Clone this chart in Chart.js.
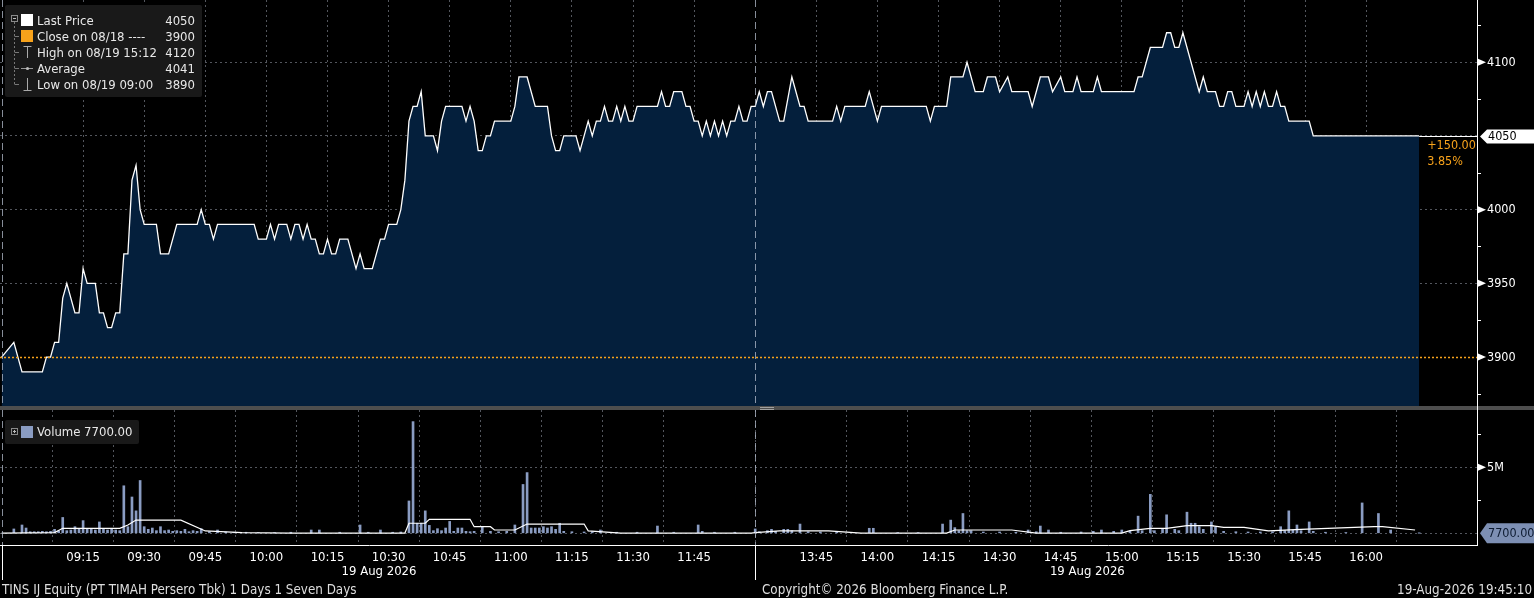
<!DOCTYPE html>
<html>
<head>
<meta charset="utf-8">
<title>TINS IJ Equity</title>
<script src="https://cdn.jsdelivr.net/npm/chart.js@4.4.1/dist/chart.umd.min.js"></script>
<style>
  html, body { margin: 0; padding: 0; background: #000; }
  body { width: 1534px; height: 598px; position: relative; overflow: hidden;
         font-family: 'DejaVu Sans Condensed', 'DejaVu Sans', sans-serif; color: #e8e8e8; }
  .pane { position: absolute; left: 0; width: 1534px; }
  #pricePane { top: 0; height: 406px; }
  #volPane { top: 410px; height: 188px; }
  #divider { position: absolute; left: 0; top: 406px; width: 1534px; height: 4px; background: #4e4e4e; }
  #grip { position: absolute; left: 760px; top: 407px; width: 14px; height: 1px;
          border-top: 1px solid #a0a0a0; border-bottom: 1px solid #a0a0a0; }
  #axisJoin { position: absolute; left: 1477px; top: 406px; width: 1px; height: 4px; background: #fff; }
  .box { position: absolute; background: #191919; border-radius: 2px; }
  .txt { position: absolute; height: 16px; line-height: 16px; white-space: nowrap; font-size: 13px; }
  .foot { position: absolute; top: 582px; height: 16px; line-height: 16px; font-size: 13.3px; color: #dedede; white-space: nowrap; }
  svg { position: absolute; left: 0; top: 0; overflow: visible; }
</style>
</head>
<body>
<div id="pricePane" class="pane"><canvas id="priceChart"></canvas></div>
<div id="divider"></div><div id="grip"></div><div id="axisJoin"></div>
<div id="volPane" class="pane"><canvas id="volChart"></canvas></div>

<div class="box" style="left:5px;top:5px;width:197px;height:92px;"></div>
<div class="box" style="left:5px;top:420px;width:134px;height:24px;"></div>
<svg width="40" height="450">
  <rect x="11.5" y="15.5" width="6" height="6" fill="none" stroke="#8a8a8a"/>
  <line x1="13" y1="18.5" x2="16" y2="18.5" stroke="#bbb"/>
  <line x1="14.5" y1="22" x2="14.5" y2="84.5" stroke="#777" stroke-dasharray="2,2"/>
  <line x1="14.5" y1="36.5" x2="19" y2="36.5" stroke="#777"/>
  <line x1="14.5" y1="52.5" x2="19" y2="52.5" stroke="#777"/>
  <line x1="14.5" y1="68.5" x2="19" y2="68.5" stroke="#777"/>
  <line x1="14.5" y1="84.5" x2="19" y2="84.5" stroke="#777"/>
  <rect x="21" y="14" width="12" height="12" fill="#fff"/>
  <rect x="21" y="30" width="12" height="12" fill="#f7a21b"/>
  <line x1="23.5" y1="46.5" x2="31.5" y2="46.5" stroke="#aaa"/>
  <line x1="27.5" y1="46.5" x2="27.5" y2="58" stroke="#aaa"/>
  <line x1="21" y1="68.5" x2="33" y2="68.5" stroke="#999"/>
  <circle cx="27.5" cy="68.5" r="1.6" fill="#bbb"/>
  <line x1="27.5" y1="78" x2="27.5" y2="90" stroke="#aaa"/>
  <line x1="23.5" y1="90.5" x2="31.5" y2="90.5" stroke="#aaa"/>
  <rect x="11.5" y="428.5" width="6" height="6" fill="none" stroke="#8a8a8a"/>
  <line x1="13" y1="431.5" x2="16" y2="431.5" stroke="#bbb"/>
  <line x1="14.5" y1="430" x2="14.5" y2="433" stroke="#bbb"/>
  <rect x="21" y="426" width="12" height="12" fill="#8a9cc2"/>
</svg>
<div id="legend"></div>

<div class="foot" style="left:2px;">TINS IJ Equity (PT TIMAH Persero Tbk) 1 Days 1 Seven Days</div>
<div class="foot" style="left:762px;">Copyright© 2026 Bloomberg Finance L.P.</div>
<div class="foot" style="right:2px;">19-Aug-2026 19:45:10</div>

<script>
// price line, one point per traded minute where the line turns
const priceTimes = [
  '08:55','08:58','09:00','09:05','09:06','09:07','09:08','09:09','09:10','09:11','09:13','09:14',
  '09:15','09:16','09:18','09:19','09:20','09:21','09:22','09:23','09:24','09:25','09:26','09:27',
  '09:28','09:29','09:30','09:33','09:34','09:36','09:38','09:43','09:44','09:45','09:46','09:47',
  '09:48','09:57','09:58','10:00','10:01','10:02','10:03','10:05','10:06','10:07','10:08','10:09',
  '10:10','10:11','10:12','10:13','10:14','10:15','10:16','10:17','10:18','10:20','10:22','10:23',
  '10:24','10:26','10:28','10:29','10:30','10:32','10:33','10:34','10:35','10:36','10:37','10:38',
  '10:39','10:41','10:42','10:43','10:44','10:48','10:49','10:50','10:51','10:52','10:53','10:54',
  '10:55','10:56','11:00','11:01','11:02','11:04','11:06','11:09','11:10','11:11','11:12','11:13',
  '11:16','11:17','11:19','11:20','11:21','11:22','11:23','11:24','11:25','11:26','11:27','11:28',
  '11:29','11:30','11:31','11:36','11:37','11:38','11:39','11:40','11:42','11:43','11:44','11:45',
  '11:46','11:47','11:48','11:49','11:50','11:51','11:52','11:53','11:54','11:55','11:56','11:57',
  '11:58','11:59',
  '13:30','13:31','13:32','13:33','13:34','13:36','13:37','13:39','13:41','13:42','13:43','13:49',
  '13:50','13:51','13:52','13:57','13:58','14:00','14:01','14:12','14:13','14:14','14:17','14:18',
  '14:21','14:22','14:24','14:26','14:27','14:29','14:30','14:32','14:33','14:37','14:38','14:40',
  '14:42','14:43','14:45','14:46','14:48','14:49','14:50','14:53','14:54','14:55','15:03','15:04',
  '15:05','15:07','15:10','15:11','15:12','15:13','15:14','15:15','15:19','15:20','15:21','15:23',
  '15:24','15:25','15:26','15:27','15:28','15:30','15:31','15:32','15:33','15:34','15:35','15:36',
  '15:37','15:38','15:39','15:40','15:41','15:46','15:47','16:13'
];
const priceValues = [
  3900,3910,3890,3890,3900,3900,3910,3910,3940,3950,3930,3930,
  3960,3950,3950,3930,3930,3920,3920,3930,3930,3970,3970,4020,
  4030,4000,3990,3990,3970,3970,3990,3990,4000,3990,3990,3980,
  3990,3990,3980,3980,3990,3980,3990,3990,3980,3990,3990,3980,
  3990,3980,3980,3970,3970,3980,3970,3970,3980,3980,3960,3970,
  3960,3960,3980,3980,3990,3990,4000,4020,4060,4070,4070,4080,
  4050,4050,4040,4060,4070,4070,4060,4070,4060,4040,4040,4050,
  4050,4060,4060,4070,4090,4090,4070,4070,4050,4040,4040,4050,
  4050,4040,4060,4050,4060,4060,4070,4060,4060,4070,4060,4070,
  4060,4060,4070,4070,4080,4070,4070,4080,4080,4070,4070,4060,
  4060,4050,4060,4050,4060,4050,4060,4050,4060,4060,4070,4060,
  4060,4070,
  4070,4080,4070,4080,4080,4060,4060,4090,4070,4070,4060,4060,
  4070,4060,4070,4070,4080,4060,4070,4070,4060,4070,4070,4090,
  4090,4100,4080,4080,4090,4090,4080,4090,4080,4080,4070,4090,
  4090,4080,4090,4080,4080,4090,4080,4080,4090,4080,4080,4090,
  4090,4110,4110,4120,4120,4110,4110,4120,4080,4090,4080,4080,
  4070,4070,4080,4080,4070,4070,4080,4070,4080,4070,4080,4070,
  4070,4080,4070,4070,4060,4060,4050,4050
];

// volume bars (shares per minute)
const volTimes = [
  '08:58','09:00','09:01','09:02','09:03','09:04','09:05','09:06','09:07','09:08','09:09','09:10',
  '09:11','09:12','09:13','09:14','09:15','09:16','09:17','09:18','09:19','09:20','09:21','09:22',
  '09:23','09:24','09:25','09:26','09:27','09:28','09:29','09:30','09:31','09:32','09:33','09:34',
  '09:35','09:36','09:37','09:38','09:39','09:40','09:41','09:42','09:43','09:44','09:46','09:48',
  '09:50','09:52','09:55','09:58','10:02','10:06','10:11','10:13','10:18','10:23','10:25','10:28',
  '10:31','10:33','10:35','10:36','10:37','10:38','10:39','10:40','10:41','10:42','10:43','10:44',
  '10:45','10:46','10:47','10:48','10:49','10:50','10:51','10:53','10:55','10:57','10:59','11:01',
  '11:03','11:04','11:05','11:06','11:07','11:08','11:09','11:10','11:11','11:12','11:13','11:15',
  '11:18','11:20','11:22','11:26','11:31','11:36','11:40','11:46','11:47','11:50','11:55',
  '13:30','13:31','13:33','13:34','13:35','13:37','13:38','13:39','13:41','13:43','13:46','13:50',
  '13:58','13:59','14:05','14:10','14:16','14:18','14:19','14:20','14:21','14:22','14:23','14:26',
  '14:30','14:34','14:37','14:39','14:40','14:42','14:45','14:50','14:53','14:55','14:58','15:00',
  '15:02','15:04','15:05','15:07','15:08','15:10','15:11','15:13','15:14','15:16','15:17','15:18',
  '15:19','15:20','15:22','15:23','15:25','15:28','15:31','15:34','15:37','15:39','15:40','15:41',
  '15:42','15:43','15:44','15:46','15:47','15:50','15:55','15:59','16:03','16:06','16:13'
];
const volValues = [
  330000,630000,400000,120000,120000,120000,150000,120000,150000,300000,180000,1200000,
  200000,250000,500000,300000,960000,300000,350000,250000,860000,300000,250000,300000,
  250000,200000,3600000,500000,2750000,1700000,4000000,500000,300000,400000,200000,500000,
  200000,250000,150000,200000,150000,300000,120000,200000,150000,350000,120000,250000,
  100000,80000,80000,60000,60000,80000,250000,250000,80000,630000,80000,250000,
  80000,100000,2450000,8460000,760000,760000,1700000,600000,200000,350000,200000,400000,
  900000,150000,400000,400000,150000,120000,150000,500000,150000,120000,150000,630000,
  3700000,4600000,400000,400000,400000,500000,400000,500000,300000,760000,150000,120000,
  100000,120000,250000,80000,80000,550000,80000,630000,150000,80000,80000,
  330000,120000,200000,300000,150000,300000,300000,200000,700000,120000,100000,80000,
  380000,380000,60000,60000,700000,1000000,430000,200000,1500000,200000,200000,100000,
  100000,80000,250000,120000,550000,250000,80000,100000,150000,250000,150000,250000,
  150000,1300000,200000,2950000,200000,300000,1400000,300000,200000,1600000,760000,760000,
  500000,300000,860000,500000,150000,120000,100000,100000,120000,500000,200000,1700000,
  250000,630000,200000,860000,150000,80000,60000,2300000,1500000,250000,7700
];

// white average-volume line in the lower panel
const avgVolTimes = [
  '08:55','09:08','09:10','09:24','09:26','09:28','09:39','09:45','09:54','10:06','10:34','10:35',
  '10:39','10:40','10:50','10:51','10:55','10:56','11:01','11:04','11:18','11:19','11:27','11:59',
  '13:30','13:36','13:48','13:56','14:17','14:19','14:33','14:39','15:00','15:02','15:07','15:11',
  '15:16','15:22','15:25','15:30','15:36','15:44','16:02','16:04','16:12'
];
const avgVolValues = [
  20000,50000,380000,380000,630000,1000000,1000000,180000,50000,20000,20000,760000,
  760000,1060000,1060000,500000,500000,250000,250000,700000,700000,180000,20000,20000,
  50000,180000,180000,20000,20000,250000,250000,20000,20000,200000,380000,380000,
  580000,580000,450000,450000,180000,300000,500000,500000,250000
];

const timeTicks = ['09:15','09:30','09:45','10:00','10:15','10:30','10:45','11:00','11:15','11:30','11:45',
                   '13:45','14:00','14:15','14:30','14:45','15:00','15:15','15:30','15:45','16:00'];
const sessionBreaks = ['08:55', '13:30'];
const priceTicks = [3900, 3950, 4000, 4050, 4100];
const priceMinorTicks = [3875, 3925, 3975, 4025, 4075, 4125];
const volTicks = [0, 5000000];
const volTickLabels = ['', '5M'];
const volMinorTicks = [2500000, 7500000];
const dateLabel = '19 Aug 2026';

const lastPrice = 4050;
const prevClose = 3900;
const averagePrice = 4041;
const lastVolume = 7700;

const FONT = "'DejaVu Sans Condensed', 'DejaVu Sans', sans-serif";
const GRID = 'rgba(165,172,185,0.5)';
const ORANGE = '#f7a21b';
const AXIS_W = 57;

// trading minutes since 09:00 with the lunch break squeezed out
function toMin(s) {
  const [h, m] = s.split(':').map(Number);
  const c = h * 60 + m;
  return c <= 720 ? c - 540 : c - 810 + 180;
}
function fromMin(v) {
  const c = v <= 180 ? v + 540 : v - 180 + 810;
  const h = Math.floor(c / 60), m = Math.round(c % 60);
  return String(h).padStart(2, '0') + ':' + String(m).padStart(2, '0');
}

// legend rows
const legendRows = [
  ['Last Price', lastPrice],
  ['Close on 08/18 ----', prevClose],
  ['High on 08/19 15:12', Math.max(...priceValues)],
  ['Average', averagePrice],
  ['Low on 08/19 09:00', Math.min(...priceValues)]
];
let html = '';
legendRows.forEach((r, i) => {
  const top = 13 + i * 16;
  html += '<div class="txt" style="left:37px;top:' + top + 'px;">' + r[0] + '</div>';
  html += '<div class="txt" style="right:1339px;top:' + top + 'px;text-align:right;">' + r[1] + '</div>';
});
html += '<div class="txt" style="left:37px;top:424px;">Volume ' + lastVolume.toFixed(2) + '</div>';
document.getElementById('legend').innerHTML = html;

function line(ctx, x1, y1, x2, y2) {
  ctx.beginPath(); ctx.moveTo(x1, y1); ctx.lineTo(x2, y2); ctx.stroke();
}
function arrowLabel(ctx, axisX, py, text) {
  ctx.fillStyle = '#fff';
  ctx.beginPath();
  ctx.moveTo(axisX + 1, py - 3.5); ctx.lineTo(axisX + 9, py); ctx.lineTo(axisX + 1, py + 3.5);
  ctx.closePath(); ctx.fill();
  ctx.fillText(text, axisX + 10, py + 0.5);
}
function tag(ctx, axisX, py, h, bg, fg, text) {
  const right = ctx.canvas.clientWidth;
  ctx.fillStyle = bg;
  ctx.beginPath();
  ctx.moveTo(axisX + 3, py);
  ctx.lineTo(axisX + 10, py - h / 2);
  ctx.lineTo(right, py - h / 2);
  ctx.lineTo(right, py + h / 2);
  ctx.lineTo(axisX + 10, py + h / 2);
  ctx.closePath(); ctx.fill();
  ctx.fillStyle = fg;
  ctx.fillText(text, axisX + 11, py + 0.5);
}

function xAxis(withLabels) {
  return {
    type: 'linear', min: -5.4, max: 357.2, offset: false,
    afterBuildTicks: s => { s.ticks = timeTicks.map(t => ({ value: toMin(t) })); },
    afterFit: s => { s.height = withLabels ? 53 : 0; },
    grid: { color: GRID, drawTicks: false },
    border: { display: false, dash: [2, 3] },
    ticks: {
      display: withLabels, color: '#fff', padding: 5, maxRotation: 0, autoSkip: false,
      font: { family: FONT, size: 13 }, callback: v => fromMin(v)
    },
    z: 1
  };
}

const priceDecor = {
  id: 'priceDecor',
  afterDraw(chart) {
    const { ctx, chartArea: a, scales: { x, y } } = chart;
    ctx.save();
    ctx.lineWidth = 1;
    ctx.strokeStyle = 'rgba(180,190,205,0.75)';
    ctx.setLineDash([7, 4]);
    sessionBreaks.forEach(t => {
      const px = Math.round(x.getPixelForValue(toMin(t))) + 0.5;
      line(ctx, px, a.top, px, a.bottom);
    });
    const yc = Math.round(y.getPixelForValue(prevClose)) + 0.5;
    ctx.strokeStyle = ORANGE; ctx.lineWidth = 1.5; ctx.setLineDash([2, 2]);
    line(ctx, a.left, yc, a.right, yc);
    ctx.setLineDash([]);
    ctx.lineWidth = 1;
    ctx.strokeStyle = '#fff';
    const xl = x.getPixelForValue(toMin(priceTimes[priceTimes.length - 1]));
    const yl = Math.round(y.getPixelForValue(lastPrice)) + 0.5;
    line(ctx, xl, yl, a.right, yl);
    line(ctx, a.right + 0.5, a.top, a.right + 0.5, a.bottom);
    priceMinorTicks.forEach(v => {
      const py = Math.round(y.getPixelForValue(v)) + 0.5;
      line(ctx, a.right, py, a.right + 4, py);
    });
    ctx.font = '12.5px ' + FONT;
    ctx.textBaseline = 'middle';
    ctx.textAlign = 'left';
    priceTicks.forEach(v => {
      if (v !== lastPrice) arrowLabel(ctx, a.right, y.getPixelForValue(v), String(v));
    });
    tag(ctx, a.right, yl, 14, '#ffffff', '#000000', String(lastPrice));
    const chg = lastPrice - prevClose;
    ctx.fillStyle = ORANGE;
    ctx.fillText((chg >= 0 ? '+' : '') + chg.toFixed(2), xl + 8, yl + 9);
    ctx.fillText((chg / prevClose * 100).toFixed(2) + '%', xl + 8, yl + 25);
    ctx.restore();
  }
};

const volDecor = {
  id: 'volDecor',
  afterDraw(chart) {
    const { ctx, chartArea: a, scales: { x, y } } = chart;
    ctx.save();
    ctx.lineWidth = 1;
    ctx.strokeStyle = 'rgba(180,190,205,0.75)';
    ctx.setLineDash([7, 4]);
    const breaks = sessionBreaks.map(t => Math.round(x.getPixelForValue(toMin(t))) + 0.5);
    breaks.forEach(px => line(ctx, px, a.top, px, a.bottom));
    ctx.setLineDash([]);
    ctx.strokeStyle = '#fff';
    breaks.forEach(px => line(ctx, px, a.bottom, px, a.bottom + 35));
    line(ctx, a.left, a.bottom + 0.5, a.right + 1, a.bottom + 0.5);
    line(ctx, a.right + 0.5, a.top, a.right + 0.5, a.bottom);
    volMinorTicks.forEach(v => {
      const py = Math.round(y.getPixelForValue(v)) + 0.5;
      line(ctx, a.right, py, a.right + 4, py);
    });
    ctx.font = '12.5px ' + FONT;
    ctx.textBaseline = 'middle';
    ctx.textAlign = 'left';
    volTicks.forEach((v, i) => {
      if (volTickLabels[i]) arrowLabel(ctx, a.right, y.getPixelForValue(v), volTickLabels[i]);
    });
    tag(ctx, a.right, y.getPixelForValue(lastVolume), 20, '#7d8fb3', '#0c1a30', lastVolume.toFixed(2));
    ctx.fillStyle = '#fff';
    ctx.textAlign = 'center';
    ctx.font = '13px ' + FONT;
    const endPx = x.getPixelForValue(toMin(priceTimes[priceTimes.length - 1]));
    ctx.fillText(dateLabel, (breaks[0] + breaks[1]) / 2, a.bottom + 27);
    ctx.fillText(dateLabel, (breaks[1] + endPx) / 2, a.bottom + 27);
    ctx.restore();
  }
};

new Chart(document.getElementById('priceChart'), {
  type: 'line',
  data: {
    datasets: [{
      data: priceTimes.map((t, i) => ({ x: toMin(t), y: priceValues[i] })),
      borderColor: '#ffffff',
      borderWidth: 1.3,
      pointRadius: 0,
      tension: 0,
      fill: 'start',
      backgroundColor: '#041f3c'
    }]
  },
  options: {
    responsive: true, maintainAspectRatio: false, animation: false,
    layout: { padding: 0 },
    plugins: { legend: { display: false }, tooltip: { enabled: false } },
    scales: {
      x: xAxis(false),
      y: {
        position: 'right', min: 3866.8, max: 4142.2,
        afterBuildTicks: s => { s.ticks = priceTicks.filter(v => v !== prevClose).map(v => ({ value: v })); },
        afterFit: s => { s.width = AXIS_W; },
        grid: { color: GRID, drawTicks: false },
        border: { display: false, dash: [2, 3] },
        ticks: { display: false },
        z: 1
      }
    }
  },
  plugins: [priceDecor]
});

new Chart(document.getElementById('volChart'), {
  type: 'bar',
  data: {
    datasets: [
      {
        type: 'line',
        data: avgVolTimes.map((t, i) => ({ x: toMin(t), y: avgVolValues[i] })),
        borderColor: '#ffffff', borderWidth: 1.2, pointRadius: 0, tension: 0, order: 1
      },
      {
        type: 'bar',
        data: volTimes.map((t, i) => ({ x: toMin(t), y: volValues[i] })),
        backgroundColor: '#8a9cc2', barThickness: 2, order: 2
      }
    ]
  },
  options: {
    responsive: true, maintainAspectRatio: false, animation: false,
    layout: { padding: 0 },
    plugins: { legend: { display: false }, tooltip: { enabled: false } },
    scales: {
      x: xAxis(true),
      y: {
        position: 'right', min: -886000, max: 9340000,
        afterBuildTicks: s => { s.ticks = volTicks.map(v => ({ value: v })); },
        afterFit: s => { s.width = AXIS_W; },
        grid: { color: GRID, drawTicks: false },
        border: { display: false, dash: [2, 3] },
        ticks: { display: false }
      }
    }
  },
  plugins: [volDecor]
});
</script>
</body>
</html>
